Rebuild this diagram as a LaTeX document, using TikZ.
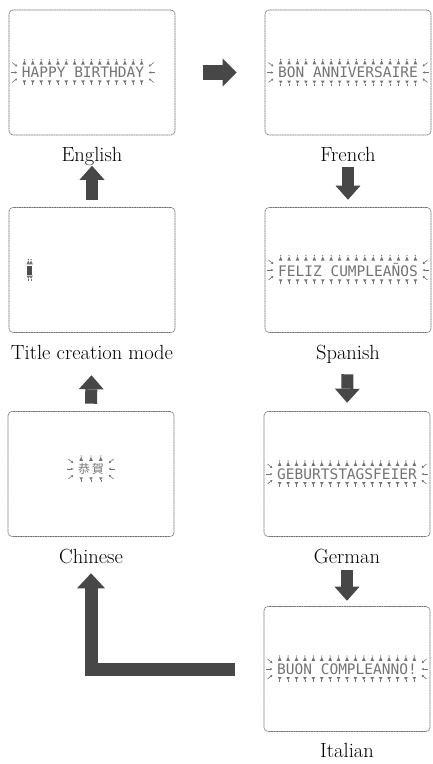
\documentclass[tikz,border=0pt]{standalone}
\usepackage{fontspec}
\newfontfamily\lcdfont{DejaVu Sans Mono}
\newfontfamily\cjk{Noto Sans CJK TC}
\usepackage{tikz}
\usetikzlibrary{positioning, arrows.meta, calc}
\colorlet{lcdgray}{black!55}
\colorlet{arrowgray}{black!72}
\tikzset{
    screen/.style={draw=black!55, line width=0.6pt, dash pattern=on 2pt off 0.5pt, rounded corners=4pt,
        minimum width=166pt, minimum height=125pt, inner sep=0pt},
    lang/.style={font=\fontsize{20.5}{22}\selectfont, inner sep=0pt},
    lcd/.style={font=\lcdfont\fontsize{14.5}{15}\selectfont, text=lcdgray, inner sep=1.5pt},
    fatarrow/.style={draw=arrowgray, line width=12pt, -{Triangle[width=25pt, length=14pt, line width=0pt]}},
    bellup/.pic={\fill[lcdgray] (-1.8,-1) -- (1.8,-1) -- (0,-5) -- cycle; \fill[lcdgray] (0,-5.8) circle (0.7pt);},
    belldown/.pic={\fill[lcdgray] (-1.8,1) -- (1.8,1) -- (0,4) -- cycle; \draw[lcdgray, line width=0.6pt] (0,4) -- (0,6);},
    lcdrays/.pic={
        \draw[lcdgray, line width=0.6pt, -{Stealth[length=2.5pt, width=2.5pt]}] (-8,-10) -- (-3,-6);
        \draw[lcdgray, line width=0.6pt, -{Stealth[length=2.5pt, width=2.5pt]}] (-9,0) -- (-3,0);
        \draw[lcdgray, line width=0.6pt, -{Stealth[length=2.5pt, width=2.5pt]}] (-8,10) -- (-3,6);}
}
% rows of little marks above and below a display text
\newcommand\lcdmarks[2]{%
  \foreach \k [evaluate=\k as \f using (\k-0.5)/#2] in {1,...,#2}{%
    \pic at ($(#1.north west)!\f!(#1.north east)$) {bellup};
    \pic at ($(#1.south west)!\f!(#1.south east)$) {belldown};
  }%
}
\newcommand\lcdrays[1]{\pic at (#1.west) {lcdrays}; \pic[xscale=-1] at (#1.east) {lcdrays};}

\begin{document}
\begin{tikzpicture}[x=1pt, y=-1pt]
\useasboundingbox (0,0) rectangle (432,764);

% screens
\node[screen] (en) at (92,72.5) {};
\node[screen] (fr) at (348,72.5) {};
\node[screen] (title) at (92,270) {};
\node[screen] (es) at (348,270) {};
\node[screen] (zh) at (91,474) {};
\node[screen] (de) at (347,474) {};
\node[screen] (it) at (347,669) {};

% names under the screens
\node[lang, below=12pt of en] (en-lab) {English};
\node[lang, below=12pt of fr] (fr-lab) {French};
\node[lang, below=12pt of title] (title-lab) {Title creation mode};
\node[lang, below=12pt of es] (es-lab) {Spanish};
\node[lang, below=12pt of zh] (zh-lab) {Chinese};
\node[lang, below=12pt of de] (de-lab) {German};
\node[lang, below=11pt of it] (it-lab) {Italian};

% what each screen shows
\node[lcd] (en-txt) at ([xshift=-9pt]en.center) {HAPPY BIRTHDAY};
\lcdmarks{en-txt}{15} \lcdrays{en-txt}
\node[lcd] (fr-txt) at (fr.center) {BON ANNIVERSAIRE};
\lcdmarks{fr-txt}{17} \lcdrays{fr-txt}
\node[lcd] (es-txt) at (es.center) {FELIZ CUMPLEAÑOS};
\lcdmarks{es-txt}{17} \lcdrays{es-txt}
\node[lcd] (de-txt) at (de.center) {GEBURTSTAGSFEIER};
\lcdmarks{de-txt}{17} \lcdrays{de-txt}
\node[lcd] (it-txt) at (it.center) {BUON COMPLEANNO!};
\lcdmarks{it-txt}{17} \lcdrays{it-txt}
\node[lcd, font=\cjk\fontsize{12}{12}\selectfont] (zh-txt) at ([yshift=5pt]zh.center) {恭\,賀};
\lcdmarks{zh-txt}{3} \lcdrays{zh-txt}
\node[fill=black!70, minimum width=5pt, minimum height=9pt, inner sep=0pt] (cursor) at ([xshift=21pt]title.west) {};
\lcdmarks{cursor}{2}

% order of the languages
\draw[fatarrow, line width=15pt, -{Triangle[width=28pt, length=14pt, line width=0pt]},
    shorten <=28pt, shorten >=28pt] (en.east) -- (fr.west);
\draw[fatarrow, shorten <=31.5pt, shorten >=7.5pt] (fr.south) -- (es.north);
\draw[fatarrow, shorten <=41.5pt, shorten >=8.5pt] (es.south) -- (de.north);
\draw[fatarrow, shorten <=33pt, shorten >=5.5pt] (de.south) -- (it.north);
\draw[fatarrow, line width=13pt, -{Triangle[width=28pt, length=15pt, line width=0pt]}, line join=miter,
    shorten <=29pt, shorten >=36.5pt] (it.west) -| (zh.south);
\draw[fatarrow, shorten <=7.5pt, shorten >=42.5pt] (zh.north) -- (title.south);
\draw[fatarrow, shorten <=7.5pt, shorten >=30.5pt] (title.north) -- (en.south);
\end{tikzpicture}
\end{document}
